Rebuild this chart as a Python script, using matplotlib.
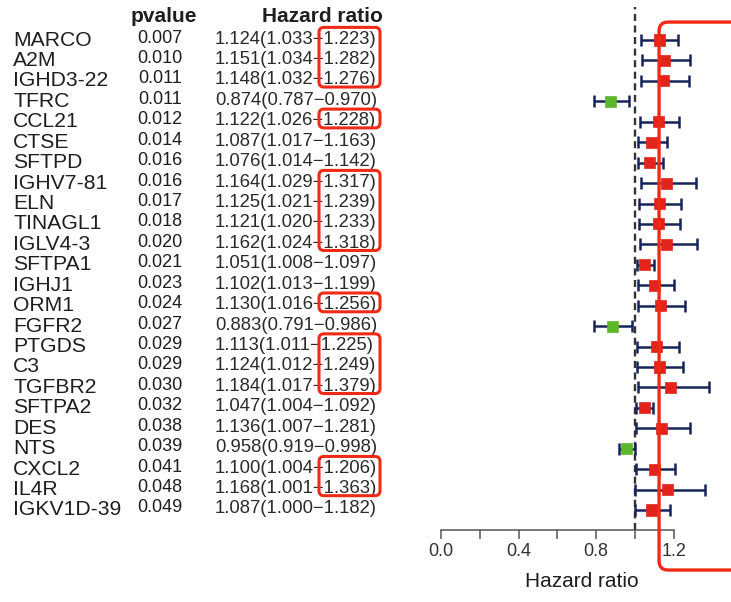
import numpy as np
import matplotlib.pyplot as plt
from matplotlib.patches import FancyBboxPatch
from matplotlib.transforms import blended_transform_factory

plt.rcParams['font.family'] = ['Liberation Sans', 'DejaVu Sans']

genes = ["MARCO", "A2M", "IGHD3-22", "TFRC", "CCL21", "CTSE", "SFTPD", "IGHV7-81",
         "ELN", "TINAGL1", "IGLV4-3", "SFTPA1", "IGHJ1", "ORM1", "FGFR2", "PTGDS",
         "C3", "TGFBR2", "SFTPA2", "DES", "NTS", "CXCL2", "IL4R", "IGKV1D-39"]
pvalues = ["0.007", "0.010", "0.011", "0.011", "0.012", "0.014", "0.016", "0.016",
           "0.017", "0.018", "0.020", "0.021", "0.023", "0.024", "0.027", "0.029",
           "0.029", "0.030", "0.032", "0.038", "0.039", "0.041", "0.048", "0.049"]
hr = np.array([1.124, 1.151, 1.148, 0.874, 1.122, 1.087, 1.076, 1.164,
               1.125, 1.121, 1.162, 1.051, 1.102, 1.130, 0.883, 1.113,
               1.124, 1.184, 1.047, 1.136, 0.958, 1.100, 1.168, 1.087])
hr_low = np.array([1.033, 1.034, 1.032, 0.787, 1.026, 1.017, 1.014, 1.029,
                   1.021, 1.020, 1.024, 1.008, 1.013, 1.016, 0.791, 1.011,
                   1.012, 1.017, 1.004, 1.007, 0.919, 1.004, 1.001, 1.000])
hr_high = np.array([1.223, 1.282, 1.276, 0.970, 1.228, 1.163, 1.142, 1.317,
                    1.239, 1.233, 1.318, 1.097, 1.199, 1.256, 0.986, 1.225,
                    1.249, 1.379, 1.092, 1.281, 0.998, 1.206, 1.363, 1.182])

# groups of rows whose upper CI is boxed in red
highlight = [("MARCO", "IGHD3-22"), ("CCL21", "CCL21"), ("IGHV7-81", "IGLV4-3"),
             ("ORM1", "ORM1"), ("PTGDS", "TGFBR2"), ("CXCL2", "IL4R")]

W, H = 7.31, 6.02
fig = plt.figure(figsize=(W, H), dpi=100)
ax = fig.add_axes([441 / 731, 72 / 602, 290 / 731, 530 / 602])

rows = np.arange(len(genes))
ax.set_xlim(0, 290 / 194)
ax.set_ylim(23.98, -1.96)

red = '#e3241c'
green = '#5cb82a'
navy = '#17245a'
txt = '#1e1e1e'

# reference line at HR = 1
ax.plot([1, 1], [23.98, -1.62], color='#333333', lw=1.7, dashes=(3.0, 1.9), zorder=1)

ax.errorbar(hr, rows, xerr=[hr - hr_low, hr_high - hr], fmt='none', ecolor=navy,
            elinewidth=1.8, capsize=4.5, capthick=1.8, zorder=2)
colors = [green if v < 1 else red for v in hr]
ax.scatter(hr, rows, marker='s', s=64, c=colors, edgecolors=colors, linewidths=0.5, zorder=3)

for s in ['top', 'right', 'left']:
    ax.spines[s].set_visible(False)
ax.spines['bottom'].set_bounds(0, 1.2)
ax.spines['bottom'].set_color('#555555')
ax.spines['bottom'].set_linewidth(1.1)
ax.set_yticks([])
ticks = [0.0, 0.2, 0.4, 0.6, 0.8, 1.0, 1.2]
ax.set_xticks(ticks)
ax.set_xticklabels(["0.0", "", "0.4", "", "0.8", "", "1.2"])
ax.tick_params(axis='x', length=6.5, width=1.1, color='#555555', labelsize=13,
               labelcolor='#333333', pad=3)
ax.set_xlabel("Hazard ratio", fontsize=15, color=txt)
ax.xaxis.set_label_coords(0.486, -0.079)
ax.patch.set_alpha(0)

# table columns on the left
tr = blended_transform_factory(fig.transFigure, ax.transData)
for i, (g, p) in enumerate(zip(genes, pvalues)):
    ax.text(13 / 731, i, g, transform=tr, fontsize=15.2, ha='left', va='center', color=txt)
    ax.text(160 / 731, i - 0.1, p, transform=tr, fontsize=13, ha='center', va='center', color=txt)
    label = f"{hr[i]:.3f}({hr_low[i]:.3f}\u2212{hr_high[i]:.3f})"
    ax.text(215 / 731, i - 0.05, label, transform=tr, fontsize=13.3, ha='left', va='center', color='#2a2a2a')
ax.text(164 / 731, -1.15, "pvalue", transform=tr, fontsize=15, fontweight='bold',
        ha='center', va='center', color=txt)
ax.text(322 / 731, -1.15, "Hazard ratio", transform=tr, fontsize=15, fontweight='bold',
        ha='center', va='center', color=txt)


def row_inch(r):
    return ax.transData.transform((0, r))[1] / fig.dpi


box_red = '#f02a14'
for a, b in highlight:
    ia, ib = genes.index(a), genes.index(b)
    y_top = row_inch(ia - 0.62)
    y_bot = row_inch(ib + 0.3)
    x0 = 319 / 731 * W
    x1 = 380 / 731 * W
    fig.add_artist(FancyBboxPatch((x0, y_bot), x1 - x0, y_top - y_bot,
                                  boxstyle='round,pad=0,rounding_size=0.05',
                                  transform=fig.dpi_scale_trans, fill=False,
                                  edgecolor=box_red, lw=2.2, zorder=5))

# big box around the right edge
bx = ax.transData.transform((1.124, 0))[0] / fig.dpi
by_top = row_inch(-0.88)
by_bot = row_inch(25.94)
fig.add_artist(FancyBboxPatch((bx, by_bot), W + 0.5 - bx, by_top - by_bot,
                              boxstyle='round,pad=0,rounding_size=0.09',
                              transform=fig.dpi_scale_trans, fill=False,
                              edgecolor=box_red, lw=2.4, zorder=5))

fig.savefig('out.png', dpi=100)
